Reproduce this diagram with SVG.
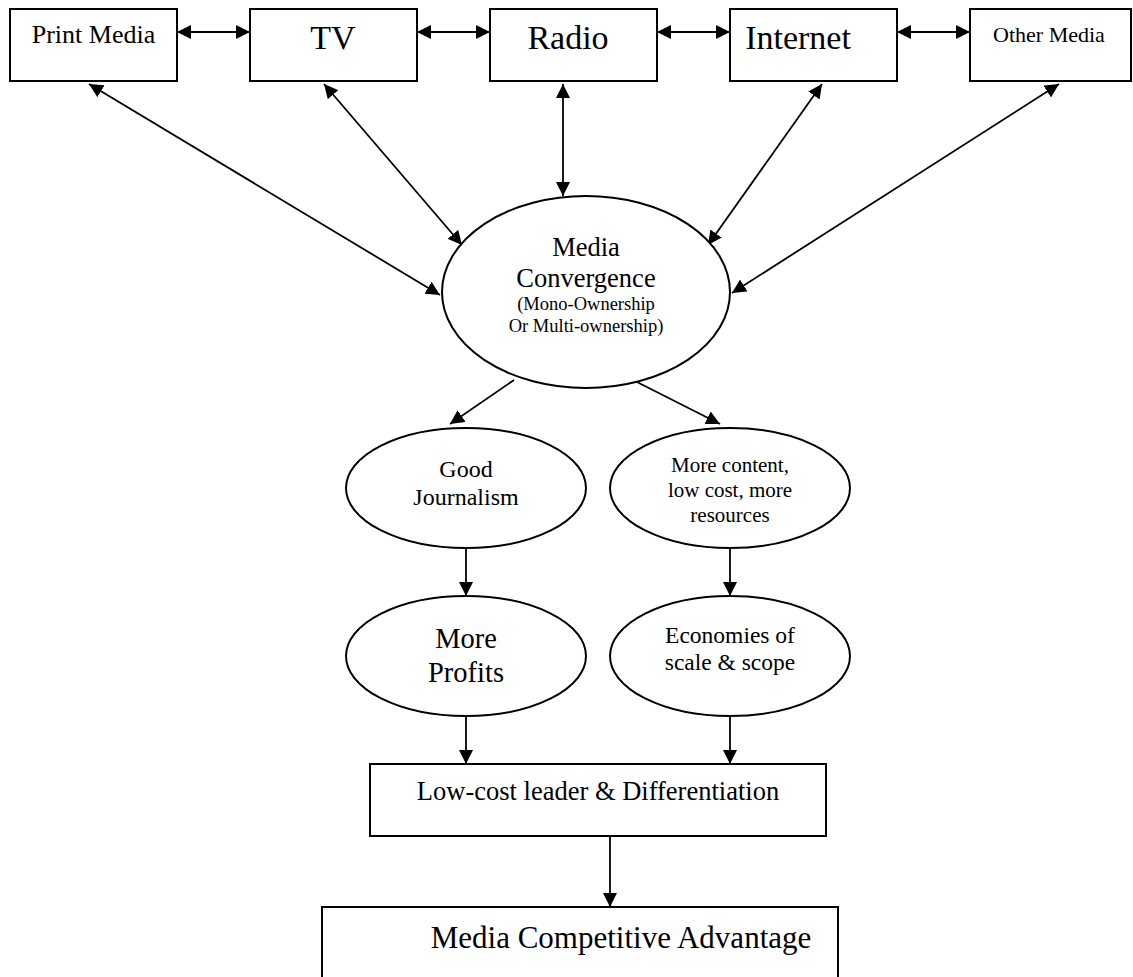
<svg xmlns="http://www.w3.org/2000/svg" width="1133" height="977" viewBox="0 0 1133 977">
<style>
.box{fill:#fff;stroke:#000;stroke-width:2}
.ell{fill:#fff;stroke:#000;stroke-width:2}
.t{font-family:"Liberation Serif","Times New Roman",serif;fill:#000;text-anchor:middle}
.c{stroke:#000;stroke-width:1.8;fill:none}
.one{marker-end:url(#ah)}
.two{marker-start:url(#ah);marker-end:url(#ah)}
</style>
<defs>
<marker id="ah" markerWidth="14" markerHeight="14" refX="14" refY="7" orient="auto-start-reverse" markerUnits="userSpaceOnUse">
<path d="M0,0 L14,7 L0,14 z" fill="#000"/>
</marker>
</defs>
<rect x="0" y="0" width="1133" height="977" fill="#fff"/>
<g id="connectors">
<line class="c two" x1="177" y1="32" x2="250" y2="32"/>
<line class="c two" x1="417" y1="32" x2="490" y2="32"/>
<line class="c two" x1="657" y1="32" x2="730" y2="32"/>
<line class="c two" x1="897" y1="32" x2="970" y2="32"/>
<line class="c two" x1="89" y1="84" x2="440" y2="295"/>
<line class="c two" x1="324" y1="84" x2="462" y2="245"/>
<line class="c two" x1="563" y1="84" x2="563" y2="196"/>
<line class="c two" x1="822" y1="84" x2="708" y2="245"/>
<line class="c two" x1="1059" y1="84" x2="732" y2="293"/>
<line class="c one" x1="514" y1="380" x2="450" y2="424"/>
<line class="c one" x1="633" y1="380" x2="720" y2="424"/>
<line class="c one" x1="466" y1="548" x2="466" y2="596"/>
<line class="c one" x1="730" y1="548" x2="730" y2="596"/>
<line class="c one" x1="466" y1="716" x2="466" y2="764"/>
<line class="c one" x1="730" y1="716" x2="730" y2="764"/>
<line class="c one" x1="610" y1="836" x2="610" y2="907"/>
</g>
<g id="print-media">
<rect class="box" x="10" y="9" width="167" height="72"/>
<text class="t" x="93.5" y="43" font-size="26">Print Media</text>
</g>
<g id="tv">
<rect class="box" x="250" y="9" width="167" height="72"/>
<text class="t" x="333" y="49" font-size="34">TV</text>
</g>
<g id="radio">
<rect class="box" x="490" y="9" width="167" height="72"/>
<text class="t" x="568" y="49" font-size="34">Radio</text>
</g>
<g id="internet">
<rect class="box" x="730" y="9" width="167" height="72"/>
<text class="t" x="798" y="49" font-size="34">Internet</text>
</g>
<g id="other-media">
<rect class="box" x="970" y="9" width="161" height="72"/>
<text class="t" x="1049" y="42" font-size="22">Other Media</text>
</g>
<g id="media-convergence">
<ellipse class="ell" cx="586" cy="292" rx="144" ry="96"/>
<text class="t" x="586" y="256" font-size="26.5">Media</text>
<text class="t" x="586" y="287" font-size="26.5">Convergence</text>
<text class="t" x="586" y="310" font-size="18.5">(Mono-Ownership</text>
<text class="t" x="586" y="332" font-size="18.5">Or Multi-ownership)</text>
</g>
<g id="good-journalism">
<ellipse class="ell" cx="466" cy="488" rx="120" ry="60"/>
<text class="t" x="466" y="477" font-size="24">Good</text>
<text class="t" x="466" y="505" font-size="24">Journalism</text>
</g>
<g id="more-content">
<ellipse class="ell" cx="730" cy="488" rx="120" ry="60"/>
<text class="t" x="730" y="472" font-size="21">More content,</text>
<text class="t" x="730" y="497" font-size="21">low cost, more</text>
<text class="t" x="730" y="522" font-size="21">resources</text>
</g>
<g id="more-profits">
<ellipse class="ell" cx="466" cy="656" rx="120" ry="60"/>
<text class="t" x="466" y="648" font-size="28.5">More</text>
<text class="t" x="466" y="682" font-size="28.5">Profits</text>
</g>
<g id="economies">
<ellipse class="ell" cx="730" cy="656" rx="120" ry="60"/>
<text class="t" x="730" y="643" font-size="23.5">Economies of</text>
<text class="t" x="730" y="670" font-size="23.5">scale &amp; scope</text>
</g>
<g id="low-cost">
<rect class="box" x="370" y="764" width="456" height="72"/>
<text class="t" x="598" y="800" font-size="26.5">Low-cost leader &amp; Differentiation</text>
</g>
<g id="competitive-advantage">
<rect class="box" x="322" y="907" width="516" height="100"/>
<text class="t" x="621" y="948" font-size="31">Media Competitive Advantage</text>
</g>
</svg>
